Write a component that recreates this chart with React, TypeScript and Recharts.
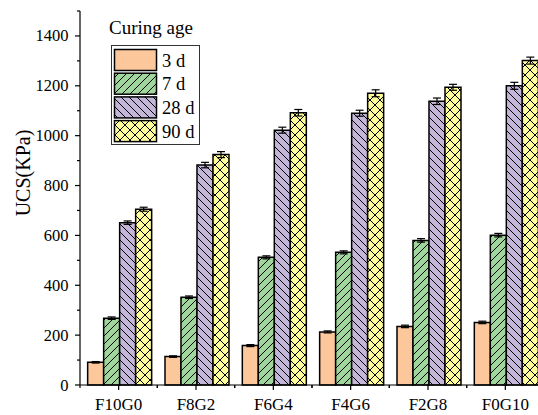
import React from 'react'
import { BarChart, Bar, XAxis, YAxis, ErrorBar, Legend } from 'recharts'

const categories = ['F10G0', 'F8G2', 'F6G4', 'F4G6', 'F2G8', 'F0G10']

const ucs3d = [91, 114, 158, 213, 235, 251]
const ucs7d = [268, 352, 512, 532, 580, 601]
const ucs28d = [651, 882, 1022, 1090, 1138, 1200]
const ucs90d = [705, 924, 1092, 1170, 1194, 1301]

const err3d = [3, 3, 4, 4, 5, 5]
const err7d = [5, 5, 6, 6, 7, 7]
const err28d = [7, 11, 12, 12, 13, 14]
const err90d = [8, 12, 13, 14, 12, 14]

const yTicks = [0, 100, 200, 300, 400, 500, 600, 700, 800, 900, 1000, 1100, 1200, 1300, 1400, 1500]

const series = [
  { key: 'd3', err: 'e3', name: '3 d', fill: 'url(#p3)' },
  { key: 'd7', err: 'e7', name: '7 d', fill: 'url(#p7)' },
  { key: 'd28', err: 'e28', name: '28 d', fill: 'url(#p28)' },
  { key: 'd90', err: 'e90', name: '90 d', fill: 'url(#p90)' },
]

const data = categories.map((c, i) => ({
  name: c,
  d3: ucs3d[i], e3: err3d[i],
  d7: ucs7d[i], e7: err7d[i],
  d28: ucs28d[i], e28: err28d[i],
  d90: ucs90d[i], e90: err90d[i],
}))

const FONT = 'Liberation Serif, Times New Roman, serif'
const txt = { fontFamily: FONT }
const AXIS_X = 80
const AXIS_Y = 385

function YTick(props: any) {
  const { y, payload } = props
  const v = payload.value
  const major = v % 200 === 0 && v <= 1400
  return (
    <g>
      <line x1={AXIS_X} x2={AXIS_X - (major ? 5 : 3)} y1={y} y2={y} stroke="#000" strokeWidth={1.2} />
      {major && (
        <text x={68.5} y={y + 5.5} textAnchor="end" fontSize={16.5} style={txt} fill="#000">
          {v}
        </text>
      )}
    </g>
  )
}

function XTick(props: any) {
  const { x, payload, width, visibleTicksCount } = props
  const half = width && visibleTicksCount ? width / visibleTicksCount / 2 : 38.67
  return (
    <g>
      <line x1={x} x2={x} y1={AXIS_Y} y2={AXIS_Y + 5} stroke="#000" strokeWidth={1.2} />
      <line x1={x - half} x2={x - half} y1={AXIS_Y} y2={AXIS_Y + 3} stroke="#000" strokeWidth={1.2} />
      <line x1={x + half} x2={x + half} y1={AXIS_Y} y2={AXIS_Y + 3} stroke="#000" strokeWidth={1.2} />
      <text x={x} y={410} textAnchor="middle" fontSize={17} style={txt} fill="#000">
        {payload.value}
      </text>
    </g>
  )
}

function LegendBox() {
  return (
    <svg width={220} height={150} style={{ display: 'block' }}>
      <text x={109} y={34} fontSize={19} style={txt} fill="#000">Curing age</text>
      <rect x={111.5} y={45.5} width={88} height={99} fill="#fff" stroke="#333" strokeWidth={1} />
      {series.map((s, i) => {
        const top = 49.5 + i * 23.7
        return (
          <g key={s.key}>
            <rect x={114.5} y={top} width={42} height={21} fill={s.fill} stroke="#000" strokeWidth={1.5} />
            <text x={162} y={top + 17} fontSize={18.5} style={txt} fill="#000">{s.name}</text>
          </g>
        )
      })}
    </svg>
  )
}

function YLabel() {
  return (
    <svg width={50} height={415} style={{ position: 'absolute', left: 0, top: 0 }}>
      <text
        x={23}
        y={173}
        transform="rotate(-90 23 173)"
        textAnchor="middle"
        dominantBaseline="central"
        fontSize={20}
        style={txt}
        fill="#000"
      >
        UCS(KPa)
      </text>
    </svg>
  )
}

export default function App() {
  return (
    <div style={{ position: 'absolute', left: 0, top: 0, width: 538, height: 415, overflow: 'hidden', background: '#fff' }}>
      <BarChart
        width={560}
        height={415}
        data={data}
        margin={{ top: 11, right: 16, bottom: 0, left: 0 }}
        barCategoryGap="9.9%"
        barGap={0}
      >
        <defs>
          <pattern id="p3" patternUnits="userSpaceOnUse" width={8} height={8}>
            <rect width={8} height={8} fill="#FCC89B" />
          </pattern>
          <pattern id="p7" patternUnits="userSpaceOnUse" width={8} height={8}>
            <rect width={8} height={8} fill="#9ED69B" />
            <path d="M0,8 L8,0 M-2,2 L2,-2 M6,10 L10,6" stroke="#000" strokeWidth={1} />
          </pattern>
          <pattern id="p28" patternUnits="userSpaceOnUse" width={8} height={8}>
            <rect width={8} height={8} fill="#C4B6D9" />
            <path d="M0,0 L8,8 M-2,6 L2,10 M6,-2 L10,2" stroke="#000" strokeWidth={1} />
          </pattern>
          <pattern id="p90" patternUnits="userSpaceOnUse" width={10} height={10}>
            <rect width={10} height={10} fill="#FFFC9A" />
            <path d="M0,0 L10,10 M0,10 L10,0" stroke="#000" strokeWidth={1} />
          </pattern>
        </defs>
        <XAxis
          dataKey="name"
          height={30}
          axisLine={{ stroke: '#000', strokeWidth: 1.2 }}
          tickLine={false}
          tick={<XTick />}
          interval={0}
        />
        <XAxis xAxisId="top" dataKey="name" orientation="top" height={0} tick={false} tickLine={false} axisLine={{ stroke: '#000', strokeWidth: 1.2 }} />
        <YAxis
          width={80}
          domain={[0, 1500]}
          ticks={yTicks}
          interval={0}
          axisLine={{ stroke: '#000', strokeWidth: 1.2 }}
          tickLine={false}
          tick={<YTick />}
        />
        <YAxis yAxisId="right" orientation="right" width={0} domain={[0, 1500]} tick={false} tickLine={false} axisLine={{ stroke: '#000', strokeWidth: 1.2 }} />
        <Legend
          layout="vertical"
          align="center"
          verticalAlign="middle"
          content={<LegendBox />}
          wrapperStyle={{ left: 0, top: 0, width: 220, height: 150, pointerEvents: 'none' }}
        />
        {series.map(s => (
          <Bar key={s.key} dataKey={s.key} name={s.name} fill={s.fill} stroke="#000" strokeWidth={1.5} isAnimationActive={false}>
            <ErrorBar dataKey={s.err} width={4} stroke="#000" strokeWidth={1.2} />
          </Bar>
        ))}
      </BarChart>
      <YLabel />
    </div>
  )
}
